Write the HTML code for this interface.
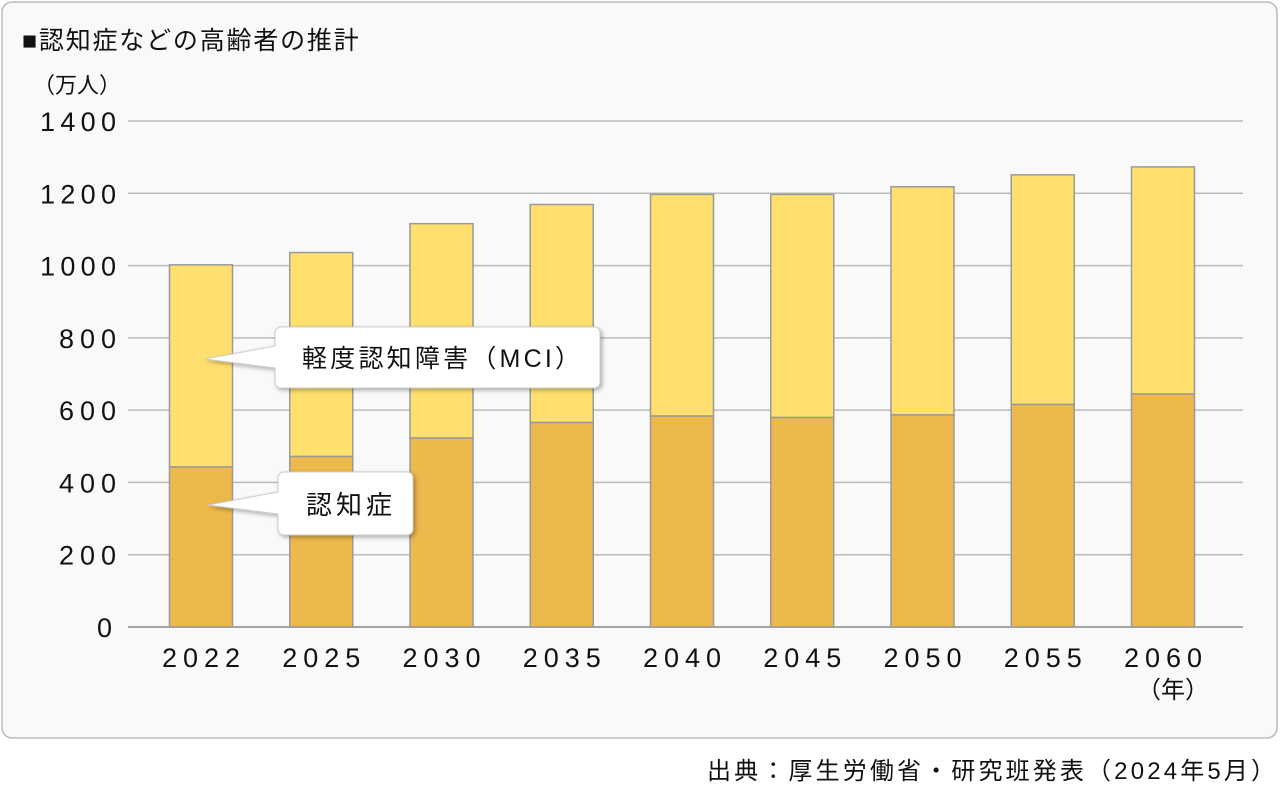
<!DOCTYPE html>
<html><head><meta charset="utf-8"><style>
body{margin:0;background:#fff;}
svg text{font-family:"Liberation Sans","Noto Sans CJK JP",sans-serif;fill:#111;}
</style></head><body>
<svg width="1280" height="786" viewBox="0 0 1280 786">
<defs><filter id="sh" x="-10%" y="-10%" width="130%" height="140%"><feDropShadow dx="2" dy="2" stdDeviation="2" flood-color="#000" flood-opacity="0.3"/></filter></defs>
<rect x="2" y="2" width="1275" height="736" rx="10" fill="#f9f9f9" stroke="#bbb" stroke-width="1.5"/>
<text x="22" y="49" font-size="25" letter-spacing="1.8">■認知症などの高齢者の推計</text>
<text x="33" y="93" font-size="22">（万人）</text>
<g id="grid"></g><g id="bars"></g><g id="labels"></g>
<text x="1173" y="698" font-size="24" text-anchor="middle">（年）</text>
<g>
<path d="M280,327 H594 a6,6 0 0 1 6,6 V382 a6,6 0 0 1 -6,6 H281 a6,6 0 0 1 -6,-6 V368 L205,359 L275,346 V333 a6,6 0 0 1 6,-6 Z" fill="#fff" stroke="#ccc" filter="url(#sh)"/>
<text x="302" y="367" font-size="25" textLength="278" lengthAdjust="spacing">軽度認知障害（MCI）</text></g>
<g>
<path d="M284,472 H407 a6,6 0 0 1 6,6 V529 a6,6 0 0 1 -6,6 H284 a6,6 0 0 1 -6,-6 V514 L208,505 L278,492 V478 a6,6 0 0 1 6,-6 Z" fill="#fff" stroke="#ccc" filter="url(#sh)"/>
<text x="306" y="514" font-size="26" textLength="86" lengthAdjust="spacing">認知症</text></g>
<text x="707" y="779" font-size="24" textLength="568" lengthAdjust="spacing">出典：厚生労働省・研究班発表（2024年5月）</text>
</svg>
<script>
const years=["2022","2025","2030","2035","2040","2045","2050","2055","2060"];
const dementia=[443,472,523,566,584,580,587,616,645];
const mci=[559,564,593,603,613,617,631,635,628];
const yTicks=[0,200,400,600,800,1000,1200,1400];
const NS="http://www.w3.org/2000/svg";
const y0=627,yTop=121,yMax=1400,left=128,right=1243;
const y=v=>y0-(v/yMax)*(y0-yTop);
const x=i=>201+i*120.25;
const bw=63;
function mk(tag,attrs,parent){const e=document.createElementNS(NS,tag);for(const k in attrs)e.setAttribute(k,attrs[k]);document.getElementById(parent).appendChild(e);return e;}
yTicks.forEach(t=>{
 const l=mk('line',{x1:left,x2:right,y1:y(t),y2:y(t),stroke:t===0?'#888':'#bbb','stroke-width':1.5},'grid');
 
 
 const s=String(t);
 const w=s.length*19;
 const tx=mk('text',{x:116-w,y:y(t)+10,'font-size':27,textLength:w,lengthAdjust:'spacing'},'labels');
 tx.textContent=s;
 
 
});
years.forEach((yr,i)=>{
 const d=mk('rect',{x:x(i)-bw/2,y:y(dementia[i]),width:bw,height:y0-y(dementia[i]),fill:'#EDB84C',stroke:'#999','stroke-width':1.5},'bars');
 
 
 const tot=dementia[i]+mci[i];
 const m=mk('rect',{x:x(i)-bw/2,y:y(tot),width:bw,height:y(dementia[i])-y(tot),fill:'#FFE06E',stroke:'#999','stroke-width':1.5},'bars');
 
 
 const tx=mk('text',{x:x(i)-39,y:667,'font-size':27,textLength:78,lengthAdjust:'spacing'},'labels');
 tx.textContent=yr;
 
 
});
</script>
</body></html>
